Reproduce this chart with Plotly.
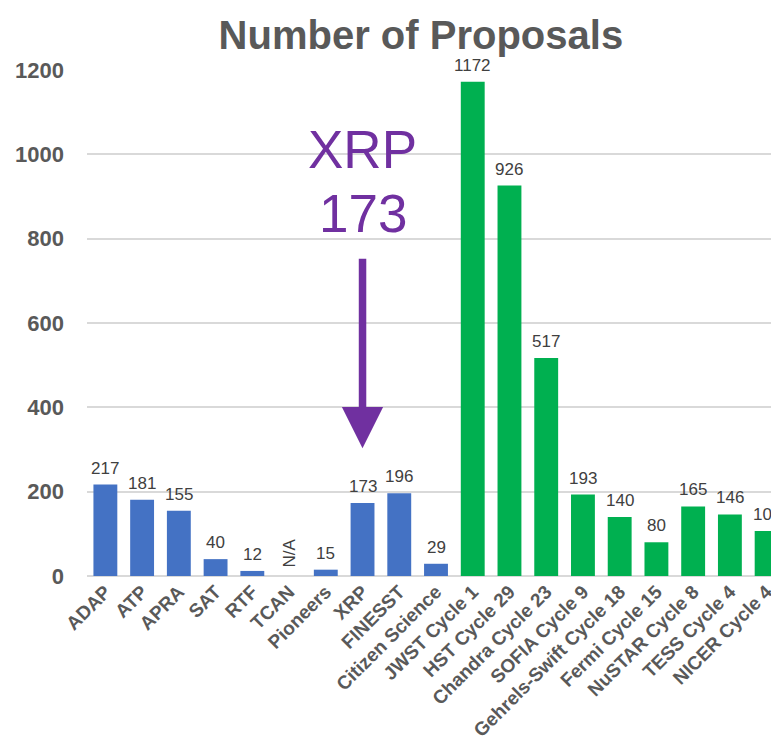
import plotly.graph_objects as go

categories = ["ADAP", "ATP", "APRA", "SAT", "RTF", "TCAN", "Pioneers", "XRP", "FINESST",
              "Citizen Science", "JWST Cycle 1", "HST Cycle 29", "Chandra Cycle 23",
              "SOFIA Cycle 9", "Gehrels-Swift Cycle 18", "Fermi Cycle 15", "NuSTAR Cycle 8",
              "TESS Cycle 4", "NICER Cycle 4"]
values = [217, 181, 155, 40, 12, None, 15, 173, 196, 29,
          1172, 926, 517, 193, 140, 80, 165, 146, 107]
groups = ["ROSES"] * 10 + ["GO"] * 9
y_ticks = [0, 200, 400, 600, 800, 1000, 1200]
highlight = "XRP"

BLUE = "#4472C4"
GREEN = "#00B050"
PURPLE = "#7030A0"
FONT = "Arial, Liberation Sans, sans-serif"

x_idx = list(range(len(categories)))
colors = [BLUE if g == "ROSES" else GREEN for g in groups]

fig = go.Figure()
fig.add_trace(go.Bar(
    x=x_idx, y=[v if v is not None else 0 for v in values],
    marker=dict(color=colors, line=dict(width=0)),
    width=0.65, hoverinfo="skip",
))

annotations = []
for i, v in enumerate(values):
    if v is None:
        annotations.append(dict(x=i, y=0, xref="x", yref="y", text="N/A",
                                textangle=-90, showarrow=False, yanchor="bottom",
                                yshift=6, font=dict(family=FONT, size=17, color="#404040")))
    else:
        annotations.append(dict(x=i, y=v, xref="x", yref="y", text=str(v),
                                showarrow=False, yanchor="bottom", yshift=5,
                                font=dict(family=FONT, size=17, color="#404040")))

hi = categories.index(highlight)
hv = values[hi]
annotations.append(dict(x=hi, y=1012, xref="x", yref="y", text=highlight, showarrow=False,
                        font=dict(family=FONT, size=53, color=PURPLE)))
annotations.append(dict(x=hi, y=860, xref="x", yref="y", text=str(hv), showarrow=False,
                        font=dict(family=FONT, size=53, color=PURPLE)))
annotations.append(dict(x=hi, y=303, xref="x", yref="y", ax=hi, ay=756,
                        axref="x", ayref="y", text="", showarrow=True,
                        arrowhead=2, arrowsize=1.1, arrowwidth=7.5, arrowcolor=PURPLE))

fig.update_layout(
    width=779, height=752,
    margin=dict(l=79, r=2, t=62, b=184),
    paper_bgcolor="white", plot_bgcolor="white",
    showlegend=False,
    title=dict(text="<b>Number of Proposals</b>", x=0.53, xanchor="center",
               y=0.964, yanchor="middle",
               font=dict(family=FONT, size=40, color="#595959")),
    annotations=annotations,
    xaxis=dict(range=[-0.5, 18.5], tickmode="array", tickvals=x_idx,
               ticktext=[f"<b>{c}</b>" for c in categories], tickangle=-45,
               tickfont=dict(family=FONT, size=19, color="#595959"),
               showgrid=False, zeroline=False, showline=False, ticks=""),
    yaxis=dict(range=[0, 1200], tickmode="array", tickvals=y_ticks,
               ticktext=[f"<b>{t}</b>" for t in y_ticks],
               tickfont=dict(family=FONT, size=22, color="#595959"),
               showgrid=True, gridcolor="#D9D9D9", gridwidth=1.5,
               zeroline=True, zerolinecolor="#D9D9D9", zerolinewidth=1.5,
               ticks="", ticklabelstandoff=22),
    bargap=0.35,
)

fig.write_html("out.html")
